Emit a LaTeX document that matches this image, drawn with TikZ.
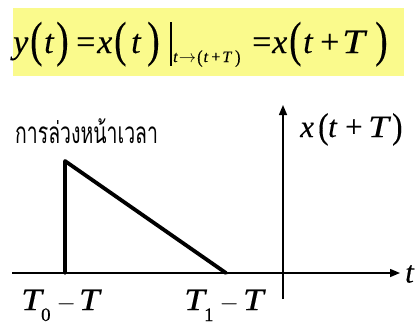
\documentclass[tikz,border=0pt]{standalone}
\usepackage{fontspec}
\setmainfont{Liberation Serif}[FakeBold=0.25]
\newfontfamily\thaifont[Script=Thai]{Loma}
\usetikzlibrary{arrows.meta}
\definecolor{boxyellow}{RGB}{250,250,140}
\newcommand{\bigpar}[1]{\raisebox{-3pt}{\scalebox{1.1}[1.45]{#1}}}
\newcommand{\midpar}[1]{\raisebox{-1pt}{\scalebox{1}[1.15]{#1}}}
\newcommand{\wideT}{\scalebox{1.2}[1]{\textit{T}}}
\begin{document}
\begin{tikzpicture}[x=1pt,y=-1pt,
  axis/.style={line width=1.5pt,-{Triangle[length=10pt,width=8pt]}},
  sig/.style={line width=3.8pt,line cap=round,line join=round},
  eqt/.style={inner sep=0pt,anchor=base west,font=\fontsize{34}{36}\selectfont},
  rt/.style={inner sep=0pt,anchor=base west,font=\fontsize{31}{33}\selectfont},
  lab/.style={inner sep=0pt,font=\fontsize{31}{33}\selectfont}]
\useasboundingbox (0,0) rectangle (419,325);
\fill[white] (0,0) rectangle (419,325);
\node[fill=boxyellow,minimum width=391pt,minimum height=68pt,inner sep=0pt] (box) at (208,42) {};
% formula
\node[eqt] (e1) at (13,53) {\textit{y}};
\node[eqt] (e2) at (30,53) {\bigpar{(}};
\node[eqt] (e3) at (44,53) {\textit{t}};
\node[eqt] (e4) at (56,53) {\bigpar{)}};
\node[eqt] (e5) at (76,53) {=};
\node[eqt] (e6) at (97,53) {\textit{x}};
\node[eqt] (e7) at (114,53) {\bigpar{(}};
\node[eqt] (e8) at (131,53) {\textit{t}};
\node[eqt] (e9) at (147,53) {\bigpar{)}};
\coordinate (bartop) at (171,22);
\coordinate (barbot) at (171,66);
\draw[line width=1.4pt] (bartop) -- (barbot);
\node[inner sep=0pt,anchor=base west,font=\fontsize{16}{17}\selectfont] (sub) at (173,62) {\textit{t}\hspace{1pt}$\rightarrow$\hspace{1pt}\midpar{(}\hspace{1pt}\textit{t}\hspace{3pt}+\hspace{2pt}\textit{T}\hspace{3pt}\midpar{)}};
\node[eqt] (f1) at (252,53) {=};
\node[eqt] (f2) at (272,53) {\textit{x}};
\node[eqt] (f3) at (289,53) {\bigpar{(}};
\node[eqt] (f4) at (303,53) {\textit{t}};
\node[eqt] (f5) at (320,53) {+};
\node[eqt] (f6) at (342,53) {\wideT};
\node[eqt] (f7) at (375,53) {\bigpar{)}};
% axes
\coordinate (hstart) at (12,273);
\coordinate (hend) at (400,273);
\coordinate (vstart) at (283,299);
\coordinate (vend) at (283,105);
\draw[axis] (hstart) -- (hend);
\draw[axis] (vstart) -- (vend);
\coordinate (p0) at (65,273);
\coordinate (p1) at (65,161);
\coordinate (p2) at (226,273);
\draw[sig] (p0) -- (p1) -- (p2);
\node[inner sep=0pt,anchor=west] (thai) at (15,131) {\scalebox{0.72}[1.1]{\thaifont\fontsize{27}{28}\selectfont การล่วงหน้าเวลา}};
% right label x(t+T)
\node[rt] (g1) at (300,137) {\textit{x}};
\node[rt] (g2) at (318,137) {\midpar{(}};
\node[rt] (g3) at (328,137) {\textit{t}};
\node[rt] (g4) at (345,137) {+};
\node[rt] (g5) at (368,137) {\wideT};
\node[rt] (g6) at (392,137) {\midpar{)}};
\node[lab,anchor=west] (tl) at (405,274) {\textit{t}};
\node[lab,anchor=base west] (t0) at (21,310) {\wideT\hspace{-3pt}\raisebox{-11pt}{\fontsize{19}{20}\selectfont 0}\hspace{6pt}$-$\hspace{3pt}\wideT};
\node[lab,anchor=base west] (t1) at (184,310) {\wideT\hspace{-3pt}\raisebox{-11pt}{\fontsize{19}{20}\selectfont 1}\hspace{6pt}$-$\hspace{4pt}\wideT};
\end{tikzpicture}
\end{document}
